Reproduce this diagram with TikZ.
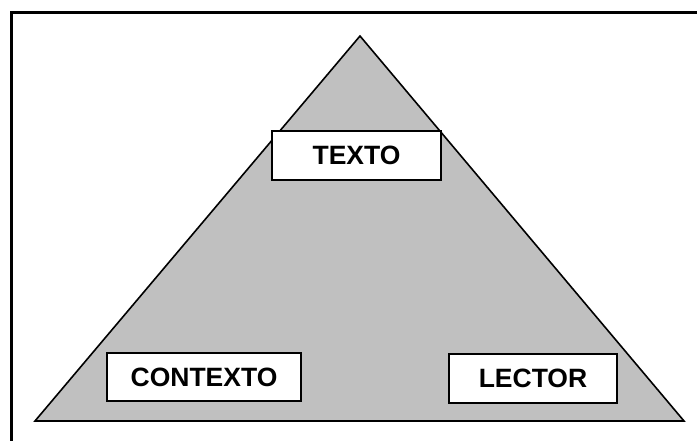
\documentclass[tikz,border=0pt]{standalone}
\usepackage{fontspec}
\setmainfont{Liberation Sans}
\definecolor{trigray}{RGB}{192,192,192}
\begin{document}
\begin{tikzpicture}[x=1pt,y=1pt,
  labelbox/.style={draw=black, line width=1.8pt, fill=white, inner sep=0pt,
    font=\fontsize{26.5}{30}\selectfont\bfseries}]
\useasboundingbox (0,0) rectangle (697,441);
% frame
\draw[line width=2.2pt] (11.5,0) -- (11.5,428.5) -- (700,428.5);
% triangle
\coordinate (apex) at (360,405);
\coordinate (bl) at (35,20);
\coordinate (br) at (684,20);
\draw[fill=trigray, line width=1.6pt, line join=miter] (bl) -- (apex) -- (br) -- cycle;
% boxes
\node[labelbox, minimum width=169pt, minimum height=49pt] (texto) at (356.5,285.5) {TEXTO};
\node[labelbox, minimum width=194pt, minimum height=48pt] (contexto) at (204,64) {CONTEXTO};
\node[labelbox, minimum width=168pt, minimum height=49pt] (lector) at (533,62.5) {LECTOR};
\end{tikzpicture}
\end{document}
